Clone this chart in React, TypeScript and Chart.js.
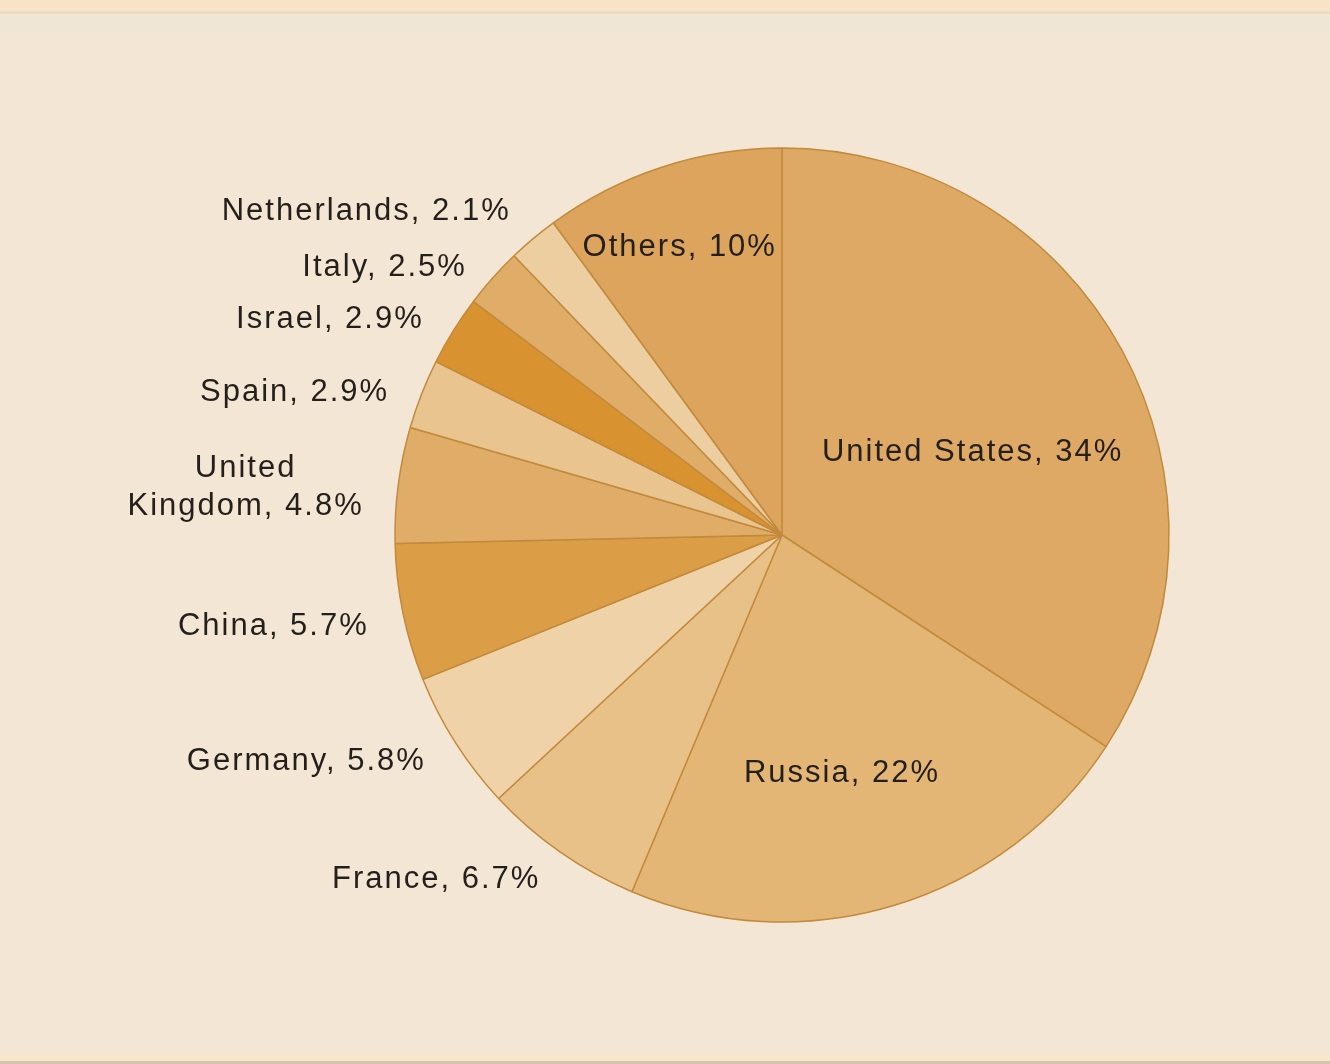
import React, { useEffect, useRef } from "react";
import { Chart, registerables } from "chart.js";

Chart.register(...registerables);

const categories: string[] = [
  "United States",
  "Russia",
  "France",
  "Germany",
  "China",
  "United Kingdom",
  "Spain",
  "Israel",
  "Italy",
  "Netherlands",
  "Others",
];

const shares: number[] = [34, 22, 6.7, 5.8, 5.7, 4.8, 2.9, 2.9, 2.5, 2.1, 10];

const sliceColors: string[] = [
  "#dea964",
  "#e3b676",
  "#e8c189",
  "#efd2a7",
  "#db9d46",
  "#e0ad68",
  "#e9c48f",
  "#d8922f",
  "#e0ad68",
  "#edcea0",
  "#dca45c",
];

// label placement (radial factor of the outer radius); inside labels are centred
const insideLabelFactor: Record<string, number> = {
  "United States": 0.56,
  Russia: 0.6,
  Others: 0.8,
};
const outsideLabelFactor = 1.09;
const wrappedLabels: string[] = ["United Kingdom"];
const labelShiftY = 7;
const extraShiftY: Record<string, number> = {
  "United States": 14,
  Russia: 9,
  Italy: 6,
  Spain: 4,
  Netherlands: -8,
  Germany: -7,
  France: -8,
};
const extraShiftX: Record<string, number> = { Russia: -8, Others: -6 };

const FONT = '31px "Liberation Sans", Arial, sans-serif';

const labelPlugin = {
  id: "sliceLabels",
  afterDatasetsDraw(chart: any) {
    const ctx: CanvasRenderingContext2D = chart.ctx;
    const meta = chart.getDatasetMeta(0);
    ctx.save();
    ctx.font = FONT;
    (ctx as any).letterSpacing = "2px";
    ctx.fillStyle = "#241f1b";
    ctx.textBaseline = "middle";
    meta.data.forEach((arc: any, i: number) => {
      const { x, y, startAngle, endAngle, outerRadius } = arc.getProps(
        ["x", "y", "startAngle", "endAngle", "outerRadius"],
        true
      );
      const mid = (startAngle + endAngle) / 2;
      const name = categories[i];
      const text = `${name}, ${shares[i]}%`;
      const inside = insideLabelFactor[name];
      const f = inside !== undefined ? inside : outsideLabelFactor;
      const px = x + Math.cos(mid) * outerRadius * f + (extraShiftX[name] || 0);
      const py = y + Math.sin(mid) * outerRadius * f + labelShiftY + (extraShiftY[name] || 0);
      let lines = [text];
      if (wrappedLabels.includes(name)) {
        const sp = name.indexOf(" ");
        lines = [name.slice(0, sp), `${name.slice(sp + 1)}, ${shares[i]}%`];
      }
      const lh = 38;
      if (inside !== undefined) {
        ctx.textAlign = "center";
        lines.forEach((ln, k) => {
          ctx.fillText(ln, px, py + (k - (lines.length - 1) / 2) * lh);
        });
      } else {
        const widths = lines.map((ln) => ctx.measureText(ln).width);
        const maxW = Math.max(...widths);
        ctx.textAlign = "center";
        lines.forEach((ln, k) => {
          ctx.fillText(ln, px - maxW / 2, py + (k - (lines.length - 1) / 2) * lh);
        });
      }
    });
    ctx.restore();
  },
};

export default function App() {
  const canvasRef = useRef<HTMLCanvasElement | null>(null);

  useEffect(() => {
    document.body.style.margin = "0";
    const canvas = canvasRef.current;
    if (!canvas) return;
    const chart = new Chart(canvas, {
      type: "pie",
      data: {
        labels: categories,
        datasets: [
          {
            data: shares,
            backgroundColor: sliceColors,
            borderColor: "#c28a3c",
            borderWidth: 1.5,
            hoverOffset: 0,
            offset: 0,
          },
        ],
      },
      options: {
        responsive: false,
        animation: false,
        radius: 387,
        rotation: 0,
        layout: { padding: { left: 234, top: 6, right: 0, bottom: 0 } },
        plugins: {
          legend: { display: false },
          tooltip: { enabled: false },
        },
        events: [],
      } as any,
      plugins: [labelPlugin],
    });
    return () => chart.destroy();
  }, []);

  return (
    <div
      style={{
        position: "absolute",
        left: 0,
        top: 0,
        width: 1330,
        height: 1064,
        background: "#f4e6d4",
        overflow: "hidden",
      }}
    >
      <div style={{ position: "absolute", left: 0, top: 0, width: 1330, height: 11, background: "#f8e3c6" }} />
      <div style={{ position: "absolute", left: 0, top: 11, width: 1330, height: 3, background: "#eddbc3" }} />
      <div style={{ position: "absolute", left: 0, top: 14, width: 1330, height: 18, background: "#f0e6d6" }} />
      <div style={{ position: "absolute", left: 0, top: 1055, width: 1330, height: 6, background: "#f8e7cb" }} />
      <div style={{ position: "absolute", left: 0, top: 1061, width: 1330, height: 3, background: "#d6c6b0" }} />
      <canvas
        ref={canvasRef}
        width={1330}
        height={1064}
        style={{ position: "absolute", left: 0, top: 0, width: 1330, height: 1064 }}
      />
    </div>
  );
}
